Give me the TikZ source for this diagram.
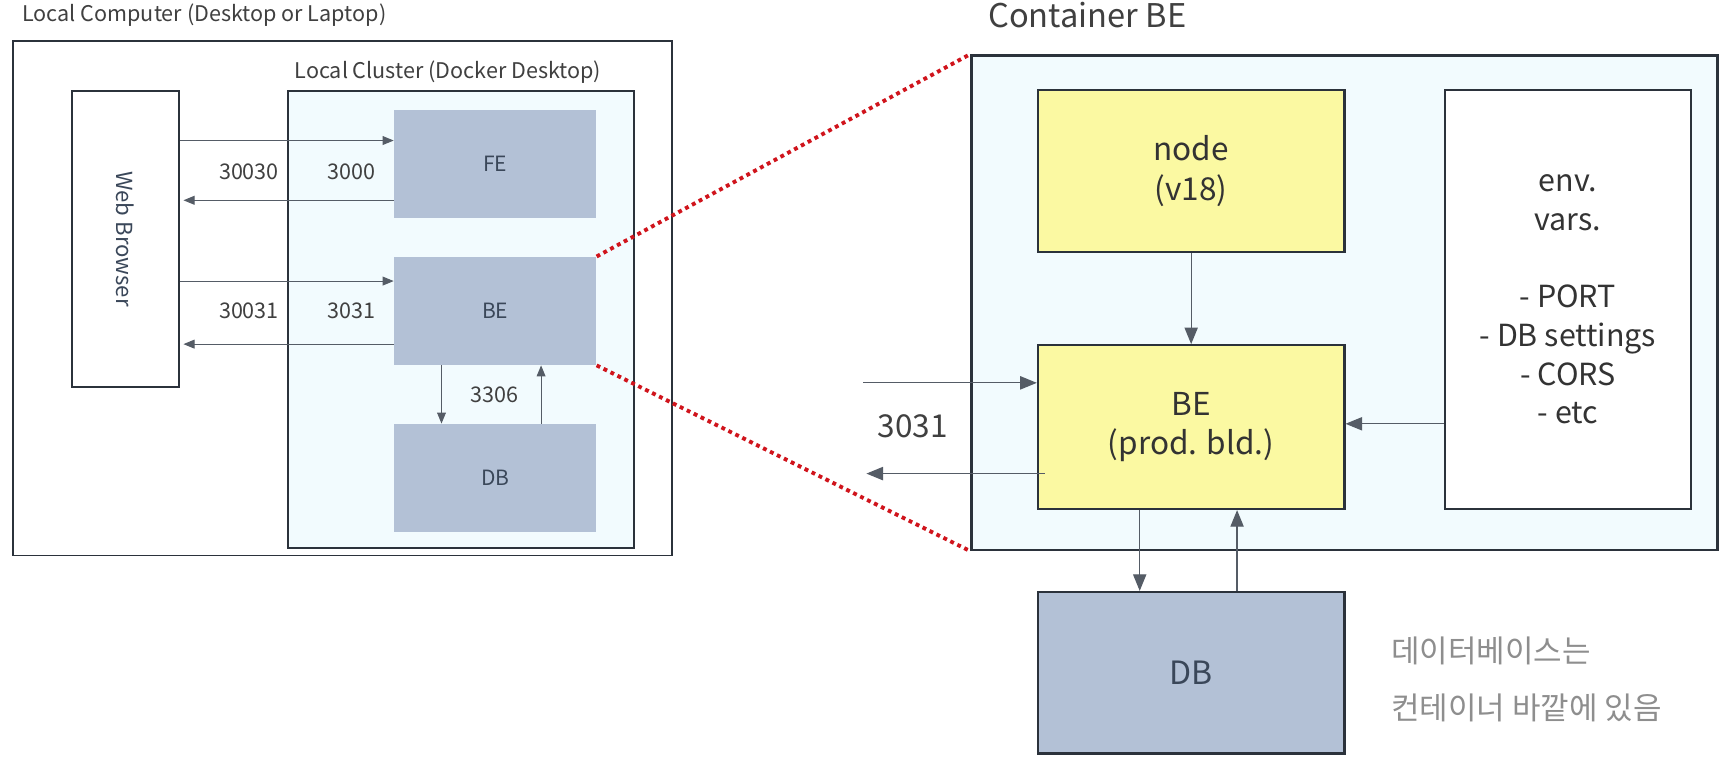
\documentclass[tikz,border=0pt]{standalone}
\usepackage{fontspec}
\setmainfont{Noto Sans CJK KR}
\usetikzlibrary{arrows.meta,calc}
\definecolor{slate}{HTML}{B3C1D6}
\definecolor{slatetext}{HTML}{3A4759}
\definecolor{yel}{HTML}{FBF9A2}
\definecolor{cyanbg}{HTML}{F2FBFE}
\definecolor{edge}{HTML}{2B323B}
\definecolor{arrowc}{HTML}{555C66}
\definecolor{reddot}{HTML}{D0141C}
\definecolor{graytext}{HTML}{8E8E8E}
\begin{document}
\begin{tikzpicture}[x=1pt,y=-1pt,
  smallbox/.style={fill=slate,inner sep=0pt,text=slatetext,font=\fontsize{19}{20}\selectfont},
  framebox/.style={draw=edge,line width=1.6pt,inner sep=0pt},
  bigyel/.style={draw=edge,line width=2pt,fill=yel,inner sep=0pt,align=center,text=black!80,font=\fontsize{28.5}{36}\selectfont},
  arr/.style={draw=arrowc,line width=0.9pt,-{Triangle[length=10pt,width=8pt]}},
  bigarr/.style={draw=arrowc,line width=1.1pt,-{Triangle[length=15pt,width=12pt]}},
  lbl/.style={text=black!75,font=\fontsize{19.5}{20}\selectfont,inner sep=0pt},
  dots/.style={draw=reddot,line width=3.5pt,dash pattern=on 3.5pt off 3.5pt}]
\useasboundingbox[fill=white] (0,0) rectangle (1568,697);
% titles
\node[lbl,anchor=west,font=\fontsize{19.5}{22}\selectfont] (tlocal) at (20,14) {Local Computer (Desktop or Laptop)};
\node[lbl,anchor=west,font=\fontsize{29.5}{32}\selectfont] (tcont) at (893,14) {Container BE};
% left frames
\node[framebox,fill=white,minimum width=595pt,minimum height=465pt] (outer) at (309.5,269.5) {};
\node[lbl,anchor=west,font=\fontsize{19.5}{22}\selectfont] (tclus) at (266,65) {Local Cluster (Docker Desktop)};
\node[framebox,fill=cyanbg,minimum width=313pt,minimum height=413pt] (cluster) at (416.5,288.5) {};
\node[framebox,fill=white,minimum width=97pt,minimum height=268pt] (browser) at (113.5,216) {};
\node[text=slatetext,rotate=-90,font=\fontsize{20}{22}\selectfont] (browsertxt) at (browser.center) {Web Browser};
\node[smallbox,minimum width=183pt,minimum height=98pt] (fe) at (447.5,148) {FE};
\node[smallbox,minimum width=183pt,minimum height=98pt] (be) at (447.5,281) {BE};
\node[smallbox,minimum width=183pt,minimum height=98pt] (db) at (447.5,432) {DB};
% left arrows
\coordinate (fein) at ([yshift=21pt]fe.west);
\coordinate (feout) at ([yshift=-33pt]fe.west);
\coordinate (bein) at ([yshift=27pt]be.west);
\coordinate (beout) at ([yshift=-30pt]be.west);
\draw[arr] (browser.east |- fein) -- (fein);
\draw[arr] (feout) -- ([xshift=3pt]browser.east |- feout);
\draw[arr] (browser.east |- bein) -- (bein);
\draw[arr] (beout) -- ([xshift=3pt]browser.east |- beout);
\node[lbl] (l30030) at (225,155) {30030};
\node[lbl] (l3000) at (318,155) {3000};
\node[lbl] (l30031) at (225,281) {30031};
\node[lbl] (l3031) at (318,281) {3031};
\coordinate (bedown) at ([xshift=-48.5pt]be.south);
\coordinate (beup) at ([xshift=41.5pt]be.south);
\draw[arr] (bedown) -- (bedown |- db.north);
\draw[arr] (beup |- db.north) -- (beup);
\node[lbl] (l3306) at (447,357) {3306};
% container
\node[framebox,line width=2.2pt,fill=cyanbg,minimum width=674pt,minimum height=447pt] (cont) at (1215,273.5) {};
\draw[dots] (be.north east) -- (cont.north west);
\draw[dots] (be.south east) -- (cont.south west);
\node[bigyel,minimum width=277pt,minimum height=147pt] (nodev) at (1076.5,154.5) {node\\(v18)};
\node[bigyel,minimum width=277pt,minimum height=148pt] (beprod) at (1076.5,386) {BE\\(prod. bld.)};
\node[framebox,line width=2pt,fill=white,minimum width=222pt,minimum height=379pt,align=center,text=black!80,font=\fontsize{27.5}{35}\selectfont] (env) at (1417,270.5) {env.\\vars.\\[35pt]- PORT\\- DB settings\\- CORS\\- etc};
\node[draw=edge,line width=2pt,fill=slate,inner sep=0pt,minimum width=277pt,minimum height=146pt,text=slatetext,font=\fontsize{29}{32}\selectfont] (dbbig) at (1076.5,608) {DB};
% right arrows
\draw[bigarr] (nodev) -- (beprod);
\coordinate (cin) at ([yshift=40pt]beprod.west);
\coordinate (cout) at ([yshift=-42pt,xshift=7pt]beprod.west);
\coordinate (cinstart) at (780,346);
\coordinate (coutend) at (783,428);
\draw[bigarr] (cinstart) -- (cin);
\draw[bigarr] (cout) -- (coutend);
\node[lbl,font=\fontsize{28.5}{30}\selectfont] (l3031b) at (825,385) {3031};
\draw[bigarr] (env.west |- 0,383) -- (beprod.east |- 0,383);
\coordinate (bd) at ([xshift=-46.5pt]beprod.south);
\coordinate (bu) at ([xshift=41.5pt]beprod.south);
\draw[bigarr] (bd) -- (bd |- dbbig.north);
\draw[bigarr] (bu |- dbbig.north) -- (bu);
\node[anchor=west,text=graytext,font=\fontsize{28}{30}\selectfont,inner sep=0pt] (kor1) at (1257,588) {데이터베이스는};
\node[anchor=west,text=graytext,font=\fontsize{28}{30}\selectfont,inner sep=0pt] (kor2) at (1257,640) {컨테이너 바깥에 있음};
\end{tikzpicture}
\end{document}
